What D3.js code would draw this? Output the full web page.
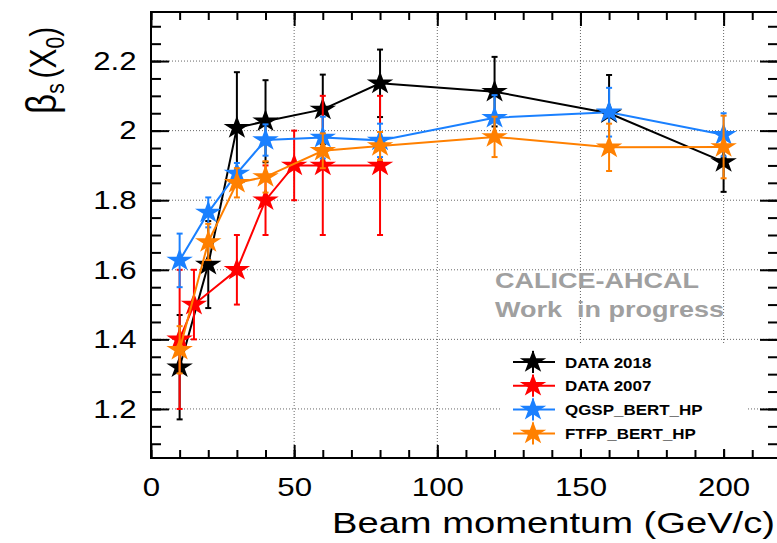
<!DOCTYPE html>
<html>
<head>
<meta charset="utf-8">
<script src="https://cdn.jsdelivr.net/npm/d3@7"></script>
<style>
  html, body { margin: 0; padding: 0; background: #fff; }
  svg { display: block; }
  text { font-family: "Liberation Sans", Arial, Helvetica, sans-serif; white-space: pre; }
</style>
</head>
<body>
<svg id="chart" width="777" height="543"></svg>
<script>
// ---------- data ----------
const seriesNames = ["DATA 2018", "DATA 2007", "QGSP_BERT_HP", "FTFP_BERT_HP"];
const seriesColors = ["#000000", "#ff0000", "#1a80ff", "#ff8000"];

const energies2018 = [10, 20, 30, 40, 60, 80, 120, 160, 200];
const values2018   = [1.32, 1.615, 2.008, 2.027, 2.061, 2.136, 2.112, 2.050, 1.910];
const errors2018   = [0.15, 0.125, 0.16, 0.118, 0.10, 0.097, 0.10, 0.11, 0.086];

const energies2007 = [10, 15, 30, 40, 50, 60, 80];
const values2007   = [1.40, 1.50, 1.60, 1.80, 1.90, 1.90, 1.90];
const errors2007   = [0.20, 0.10, 0.10, 0.10, 0.10, 0.20, 0.20];

const energiesQGSP = [10, 20, 30, 40, 60, 80, 120, 160, 200];
const valuesQGSP   = [1.627, 1.765, 1.877, 1.973, 1.980, 1.972, 2.037, 2.053, 1.988];
const errorsQGSP   = [0.077, 0.043, 0.03, 0.045, 0.06, 0.048, 0.065, 0.07, 0.062];

const energiesFTFP = [10, 20, 30, 40, 60, 80, 120, 160, 200];
const valuesFTFP   = [1.37, 1.68, 1.85, 1.867, 1.942, 1.956, 1.982, 1.952, 1.953];
const errorsFTFP   = [0.068, 0.052, 0.042, 0.045, 0.05, 0.04, 0.058, 0.068, 0.09];

const xMajorTicks = [0, 50, 100, 150, 200];
const yMajorTicks = [1.2, 1.4, 1.6, 1.8, 2.0, 2.2];
const xTitle = "Beam momentum (GeV/c)";
const watermark = ["CALICE-AHCAL", "Work  in progress"];

// ---------- layout ----------
const svg = d3.select("#chart");
const L = 151, R = 778, T = 12, B = 458;
const x = d3.scaleLinear().domain([0, 219]).range([L, R]);
const y = d3.scaleLinear().domain([1.059, 2.341]).range([B, T]);
const xMinor = d3.range(0, 219, 10);
const yMinor = d3.range(1.1, 2.341, 0.05).map(v => +v.toFixed(2));
const SX = 1.2; // horizontal stretch of text

// grid
const grid = svg.append("g").attr("stroke", "#000").attr("stroke-width", 0.8)
  .attr("stroke-dasharray", "1,2").attr("opacity", 0.75);
grid.selectAll(".gx").data(xMajorTicks.filter(d => d > 0)).join("line")
  .attr("x1", d => x(d)).attr("x2", d => x(d)).attr("y1", T).attr("y2", B);
grid.selectAll(".gy").data(yMajorTicks).join("line")
  .attr("x1", L).attr("x2", R).attr("y1", d => y(d)).attr("y2", d => y(d));

// axes
function styleAxis(g) {
  g.select(".domain").remove();
  g.selectAll(".tick line").attr("stroke", "#000").attr("stroke-width", 2);
}
svg.append("g").attr("transform", `translate(0,${B})`)
  .call(d3.axisBottom(x).tickValues(xMinor).tickSize(-8).tickFormat(""))
  .call(styleAxis);
svg.append("g").attr("transform", `translate(0,${B})`)
  .call(d3.axisBottom(x).tickValues(xMajorTicks).tickSize(-13).tickPadding(19.5).tickFormat(d3.format("")))
  .call(styleAxis)
  .call(g => g.selectAll("text").attr("font-size", 26).attr("fill", "#000")
    .attr("font-family", "Liberation Sans, Arial, sans-serif")
    .attr("transform", `scale(${SX},1)`));
svg.append("g").attr("transform", `translate(0,${T})`)
  .call(d3.axisTop(x).tickValues(xMinor).tickSize(-8).tickFormat(""))
  .call(styleAxis);
svg.append("g").attr("transform", `translate(0,${T})`)
  .call(d3.axisTop(x).tickValues(xMajorTicks).tickSize(-14).tickFormat(""))
  .call(styleAxis);
svg.append("g").attr("transform", `translate(${L},0)`)
  .call(d3.axisLeft(y).tickValues(yMinor).tickSize(-10).tickFormat(""))
  .call(styleAxis);
svg.append("g").attr("transform", `translate(${L},0)`)
  .call(d3.axisLeft(y).tickValues(yMajorTicks).tickSize(-18).tickPadding(12)
    .tickFormat(d => d === 2 ? "2" : d3.format(".1f")(d)))
  .call(styleAxis)
  .call(g => g.selectAll("text").attr("font-size", 26).attr("fill", "#000")
    .attr("font-family", "Liberation Sans, Arial, sans-serif")
    .attr("transform", `scale(${SX},1)`));
svg.append("g").attr("transform", `translate(${R},0)`)
  .call(d3.axisRight(y).tickValues(yMinor).tickSize(-10).tickFormat(""))
  .call(styleAxis);
svg.append("g").attr("transform", `translate(${R},0)`)
  .call(d3.axisRight(y).tickValues(yMajorTicks).tickSize(-18).tickFormat(""))
  .call(styleAxis);

// frame
svg.append("rect").attr("x", L).attr("y", T).attr("width", R - L).attr("height", B - T)
  .attr("fill", "none").attr("stroke", "#000").attr("stroke-width", 2);

// series
const series = [
  {e: energies2018, v: values2018, err: errors2018},
  {e: energies2007, v: values2007, err: errors2007},
  {e: energiesQGSP, v: valuesQGSP, err: errorsQGSP},
  {e: energiesFTFP, v: valuesFTFP, err: errorsFTFP}
];
const star = d3.symbol().type(d3.symbolStar).size(165);
const line = d3.line().x(d => x(d[0])).y(d => y(d[1]));
series.forEach((s, i) => {
  const col = seriesColors[i];
  const pts = s.e.map((e, j) => [e, s.v[j], s.err[j]]);
  const g = svg.append("g");
  g.append("path").attr("d", line(pts)).attr("fill", "none")
    .attr("stroke", col).attr("stroke-width", 2);
  const eb = g.selectAll(".eb").data(pts).join("g");
  eb.append("line").attr("x1", d => x(d[0])).attr("x2", d => x(d[0]))
    .attr("y1", d => y(d[1] - d[2])).attr("y2", d => y(d[1] + d[2]))
    .attr("stroke", col).attr("stroke-width", 2);
  [1, -1].forEach(sg => {
    eb.append("line").attr("x1", d => x(d[0]) - 3).attr("x2", d => x(d[0]) + 3)
      .attr("y1", d => y(d[1] + sg * d[2])).attr("y2", d => y(d[1] + sg * d[2]))
      .attr("stroke", col).attr("stroke-width", 2);
  });
  g.selectAll(".mk").data(pts).join("path")
    .attr("d", star)
    .attr("transform", d => `translate(${x(d[0])},${y(d[1])}) scale(1.15,1)`)
    .attr("fill", col);
});

// watermark
watermark.forEach((t, i) => {
  svg.append("text").attr("transform", `translate(495,${288 + i * 28.5}) scale(${SX},1)`)
    .attr("font-size", 22.5).attr("font-weight", "bold").attr("fill", "#a0a0a0")
    .attr("xml:space", "preserve").text(t);
});

// legend
const lg = svg.append("g");
lg.append("rect").attr("x", 502).attr("y", 344).attr("width", 245).attr("height", 105).attr("fill", "#fff");
seriesNames.forEach((n, i) => {
  const cy = 362 + i * 23.8, col = seriesColors[i];
  lg.append("line").attr("x1", 513).attr("x2", 555).attr("y1", cy).attr("y2", cy)
    .attr("stroke", col).attr("stroke-width", 2);
  lg.append("line").attr("x1", 533).attr("x2", 533).attr("y1", cy - 11).attr("y2", cy + 11)
    .attr("stroke", col).attr("stroke-width", 2);
  lg.append("path").attr("d", star).attr("transform", `translate(533,${cy}) scale(1.15,1)`).attr("fill", col);
  lg.append("text").attr("transform", `translate(565,${cy + 5.5}) scale(1.13,1)`)
    .attr("font-size", 15).attr("font-weight", "bold").attr("fill", "#000").text(n);
});

// axis titles
svg.append("text").attr("x", 775).attr("y", 533).attr("text-anchor", "end")
  .attr("font-size", 29).attr("textLength", 443).attr("lengthAdjust", "spacingAndGlyphs")
  .attr("fill", "#000").text(xTitle);

const yt = svg.append("text").attr("transform", "translate(56,114) rotate(-90) scale(1,1.2)")
  .attr("font-size", 30).attr("fill", "#000");
yt.append("tspan").attr("font-size", 35).text("β");
yt.append("tspan").attr("font-size", 21).attr("dy", 7).text("s");
yt.append("tspan").attr("dy", -7).attr("dx", 5).text("(X");
yt.append("tspan").attr("font-size", 21).attr("dy", 7).text("0");
yt.append("tspan").attr("dy", -7).text(")");
</script>
</body>
</html>
